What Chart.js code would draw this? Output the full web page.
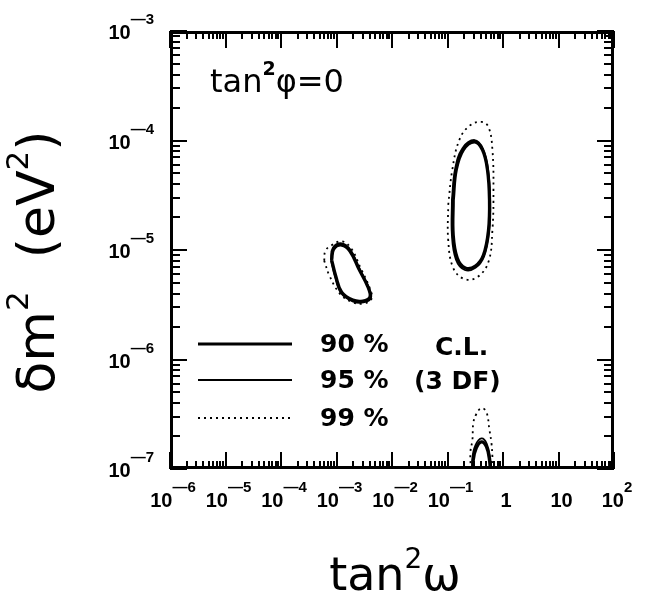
<!DOCTYPE html>
<html>
<head>
<meta charset="utf-8">
<script src="https://cdn.jsdelivr.net/npm/chart.js@4.4.0/dist/chart.umd.min.js"></script>
<style>
  html, body { margin: 0; padding: 0; background: #fff; }
</style>
</head>
<body>
<canvas id="chart" width="662" height="598"></canvas>
<script>
// axis ticks
const xTickVals = [1e-6, 1e-5, 1e-4, 1e-3, 1e-2, 1e-1, 1, 10, 100];
const xTickBase = ["10", "10", "10", "10", "10", "10", "1", "10", "10"];
const xTickExp = ["\u20146", "\u20145", "\u20144", "\u20143", "\u20142", "\u20141", "", "", "2"];
const yTickVals = [1e-7, 1e-6, 1e-5, 1e-4, 1e-3];
const yTickExp = ["\u20147", "\u20146", "\u20145", "\u20144", "\u20143"];

// contours [tan^2 w, dm^2]
const big90 = [[0.127, 2.86e-5], [0.144, 5.4e-5], [0.193, 8.2e-5], [0.305, 9.7e-5], [0.426, 8.2e-5],
  [0.524, 5.4e-5], [0.57, 2.86e-5], [0.547, 1.52e-5], [0.444, 9.0e-6], [0.318, 7.15e-6],
  [0.209, 6.85e-6], [0.15, 8.45e-6], [0.127, 1.37e-5]];
const big95 = [[0.12, 2.86e-5], [0.137, 5.5e-5], [0.186, 8.5e-5], [0.307, 1.01e-4], [0.438, 8.4e-5],
  [0.542, 5.4e-5], [0.59, 2.86e-5], [0.568, 1.5e-5], [0.457, 8.75e-6], [0.319, 6.87e-6],
  [0.205, 6.57e-6], [0.142, 8.17e-6], [0.12, 1.37e-5]];
const big99 = [[0.103, 2.58e-5], [0.122, 5.4e-5], [0.163, 1.01e-4], [0.248, 1.36e-4], [0.408, 1.48e-4],
  [0.547, 1.33e-4], [0.645, 8.2e-5], [0.673, 3.53e-5], [0.645, 1.52e-5], [0.547, 7.8e-6],
  [0.345, 5.66e-6], [0.201, 5.43e-6], [0.127, 6.85e-6], [0.103, 1.23e-5]];
const small90 = [[8.2e-4, 8.1e-6], [8.9e-4, 1.02e-5], [1.24e-3, 1.11e-5], [1.74e-3, 9.8e-6], [2.53e-3, 6.7e-6],
  [3.68e-3, 4.6e-6], [4.0e-3, 3.72e-6], [2.99e-3, 3.42e-6], [1.97e-3, 3.49e-6], [1.24e-3, 4.13e-6],
  [9.7e-4, 5.8e-6]];
const small95 = [[7.9e-4, 8.1e-6], [8.6e-4, 1.05e-5], [1.25e-3, 1.15e-5], [1.8e-3, 1.0e-5], [2.6e-3, 6.8e-6],
  [3.8e-3, 4.6e-6], [4.2e-3, 3.65e-6], [3.05e-3, 3.32e-6], [1.95e-3, 3.4e-6], [1.2e-3, 4.05e-6],
  [9.3e-4, 5.8e-6]];
const small99 = [[6.0e-4, 8.0e-6], [6.3e-4, 9.8e-6], [8.0e-4, 1.1e-5], [1.25e-3, 1.2e-5], [1.85e-3, 1.03e-5],
  [2.7e-3, 6.9e-6], [3.9e-3, 4.6e-6], [4.3e-3, 3.6e-6], [3.1e-3, 3.25e-6], [1.9e-3, 3.35e-6],
  [1.15e-3, 4.0e-6], [7.5e-4, 5.8e-6]];
const low90 = [[0.292, 8.8e-8], [0.292, 1.21e-7], [0.331, 1.56e-7], [0.408, 1.77e-7], [0.502, 1.6e-7],
  [0.57, 1.21e-7], [0.594, 8.8e-8]];
const low95 = [[0.28, 8.8e-8], [0.28, 1.25e-7], [0.32, 1.65e-7], [0.41, 1.9e-7], [0.51, 1.7e-7],
  [0.59, 1.25e-7], [0.62, 8.8e-8]];
const low99 = [[0.269, 8.8e-8], [0.258, 1.4e-7], [0.281, 1.84e-7], [0.292, 2.63e-7], [0.331, 3.18e-7],
  [0.408, 3.6e-7], [0.502, 3.32e-7], [0.57, 2.27e-7], [0.619, 1.73e-7], [0.645, 1.29e-7],
  [0.673, 8.8e-8]];

const legendLabels = ["90 %", "95 %", "99 %"];
const legendNote = ["C.L.", "(3 DF)"];

const lineStyle = {
  90: { borderWidth: 3.2, borderDash: [] },
  95: { borderWidth: 1.8, borderDash: [] },
  99: { borderWidth: 1.8, borderDash: [2, 4] },
};

function toPoints(arr, closed) {
  const pts = arr.map(([x, y]) => ({ x: x, y: y }));
  if (closed) pts.push(pts[0]);
  return pts;
}

function contour(arr, cl, closed) {
  return {
    data: toPoints(arr, closed),
    showLine: true,
    pointRadius: 0,
    borderColor: "#000",
    borderWidth: lineStyle[cl].borderWidth,
    borderDash: lineStyle[cl].borderDash,
    tension: 0.4,
    fill: false,
    clip: 0,
  };
}

// draws a row of text pieces, each {t, font, dy}
function richWidth(ctx, parts) {
  let w = 0;
  parts.forEach((p) => { ctx.font = p.font; w += ctx.measureText(p.t).width; });
  return w;
}
function drawRich(ctx, x, y, parts) {
  parts.forEach((p) => {
    ctx.font = p.font;
    ctx.fillText(p.t, x, y + (p.dy || 0));
    x += ctx.measureText(p.t).width;
  });
}

const framePlugin = {
  id: "frame",
  afterDraw(chart) {
    const { ctx, chartArea: a, scales } = chart;
    const xs = scales.x, ys = scales.y;
    ctx.save();
    ctx.strokeStyle = "#000";
    ctx.fillStyle = "#000";
    ctx.lineWidth = 3;
    ctx.strokeRect(a.left + 1.5, a.top + 1.5, a.width - 3, a.height - 3);

    // inward ticks
    ctx.lineWidth = 2;
    ctx.beginPath();
    for (let d = -6; d <= 2; d++) {
      for (let m = 1; m <= 9; m++) {
        if (d === 2 && m > 1) break;
        const px = Math.round(xs.getPixelForValue(m * Math.pow(10, d)));
        const len = m === 1 ? 17 : 8;
        ctx.moveTo(px, a.bottom); ctx.lineTo(px, a.bottom - len);
        ctx.moveTo(px, a.top); ctx.lineTo(px, a.top + len);
      }
    }
    for (let d = -7; d <= -3; d++) {
      for (let m = 1; m <= 9; m++) {
        if (d === -3 && m > 1) break;
        const py = Math.round(ys.getPixelForValue(m * Math.pow(10, d)));
        const len = m === 1 ? 17 : 10;
        ctx.moveTo(a.left, py); ctx.lineTo(a.left + len, py);
        ctx.moveTo(a.right, py); ctx.lineTo(a.right - len, py);
      }
    }
    ctx.stroke();

    // tick labels
    const baseFont = "bold 20px 'Liberation Sans'";
    const expFont = "bold 15px 'Liberation Sans'";
    ctx.textBaseline = "alphabetic";
    ctx.textAlign = "left";
    xTickVals.forEach((v, i) => {
      const px = xs.getPixelForValue(v);
      const parts = [{ t: xTickBase[i], font: baseFont }, { t: xTickExp[i], font: expFont, dy: -15 }];
      const w = richWidth(ctx, parts);
      drawRich(ctx, px - w / 2 + 3, 507, parts);
    });
    yTickVals.forEach((v, i) => {
      const py = ys.getPixelForValue(v);
      const parts = [{ t: "10", font: baseFont }, { t: yTickExp[i], font: expFont, dy: -15 }];
      const w = richWidth(ctx, parts);
      drawRich(ctx, 154 - w, py + 8, parts);
    });

    // in-plot label
    drawRich(ctx, 210, 92, [
      { t: "tan", font: "32px 'DejaVu Sans'" },
      { t: "2", font: "bold 19px 'DejaVu Sans'", dy: -17 },
      { t: "\u03c6=0", font: "32px 'DejaVu Sans'" },
    ]);

    // legend
    const ly = [344, 380, 418];
    [90, 95, 99].forEach((cl, i) => {
      ctx.lineWidth = lineStyle[cl].borderWidth;
      ctx.setLineDash(lineStyle[cl].borderDash);
      ctx.beginPath();
      ctx.moveTo(198, ly[i]); ctx.lineTo(292, ly[i]);
      ctx.stroke();
    });
    ctx.setLineDash([]);
    ctx.textBaseline = "middle";
    ctx.font = "bold 25px 'DejaVu Sans'";
    legendLabels.forEach((t, i) => ctx.fillText(t, 320, ly[i] + 1));
    ctx.fillText(legendNote[0], 435, 348);
    ctx.fillText(legendNote[1], 414, 382);

    // axis titles
    ctx.textBaseline = "alphabetic";
    const xt = [
      { t: "tan", font: "46px 'DejaVu Sans'" },
      { t: "2", font: "28px 'DejaVu Sans'", dy: -22 },
      { t: "\u03c9", font: "46px 'DejaVu Sans'" },
    ];
    drawRich(ctx, 395 - richWidth(ctx, xt) / 2, 590, xt);

    const yt = [
      { t: "\u03b4m", font: "52px 'DejaVu Sans'" },
      { t: "2", font: "31px 'DejaVu Sans'", dy: -26 },
      { t: "  (eV", font: "52px 'DejaVu Sans'" },
      { t: "2", font: "31px 'DejaVu Sans'", dy: -26 },
      { t: ")", font: "52px 'DejaVu Sans'" },
    ];
    ctx.translate(54, 262);
    ctx.rotate(-Math.PI / 2);
    drawRich(ctx, -richWidth(ctx, yt) / 2, 0, yt);
    ctx.restore();
  },
};

new Chart(document.getElementById("chart"), {
  type: "scatter",
  data: {
    datasets: [
      contour(big90, 90, true),
      contour(big95, 95, true),
      contour(big99, 99, true),
      contour(small90, 90, true),
      contour(small95, 95, true),
      contour(small99, 99, true),
      contour(low90, 90, false),
      contour(low95, 95, false),
      contour(low99, 99, false),
    ],
  },
  options: {
    responsive: false,
    animation: false,
    layout: { padding: { left: 170, right: 48, top: 31, bottom: 129 } },
    plugins: { legend: { display: false }, tooltip: { enabled: false } },
    scales: {
      x: {
        type: "logarithmic", min: 1e-6, max: 100,
        ticks: { display: false }, grid: { display: false }, border: { display: false },
        afterFit(s) { s.height = 0; },
      },
      y: {
        type: "logarithmic", min: 1e-7, max: 1e-3,
        ticks: { display: false }, grid: { display: false }, border: { display: false },
        afterFit(s) { s.width = 0; },
      },
    },
  },
  plugins: [framePlugin],
});
</script>
</body>
</html>
